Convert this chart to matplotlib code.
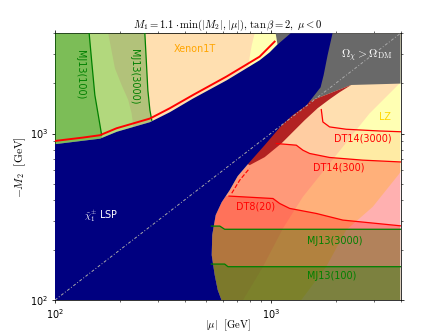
import matplotlib
matplotlib.use("Agg")
import matplotlib.pyplot as plt
from matplotlib.patches import Polygon
import numpy as np

# ---------------- data (GeV) ----------------
XLIM = (100, 4000)
YLIM = (100, 4000)

# chargino-LSP (blue) region boundaries
blue_ul_x = [100, 134.8, 161.6, 193.6, 275.5, 340.7, 435, 625.6, 889, 989.4, 1066, 1238]
blue_ul_y = [863, 905, 931, 1025, 1170, 1343, 1618, 2089, 2754, 3074, 3389, 4000]
blue_r_x = [1936, 1836, 1760, 1704, 1468, 1264, 1125, 938, 799, 703.5, 646, 593, 556, 536, 533, 550.5, 568.5, 591.5]
blue_r_y = [4000, 2951, 2239, 1895, 1479, 1288, 1122, 851, 673, 555, 457, 387, 323.6, 245.5, 186, 141, 114.8, 100]

# red contour hugging the upper-left boundary
red_tl_x = [100, 135.2, 161.6, 193.1, 275.5, 340.7, 436.8, 623.6, 889, 1043]
red_tl_y = [902.6, 946, 977, 1076, 1230, 1419, 1705, 2198, 2897, 3565]
red_lr_x = [660, 719, 799]
red_lr_y = [438, 525, 619]

# relic overabundance (grey) and dark-red band
grey_x = [1054.6, 4000, 4000, 2363, 1570, 1437, 1160, 1077.5]
grey_y = [4000, 4000, 1995, 1957, 1591, 1458, 2089, 3389]
dred_x = [758, 889, 1066, 1224, 1392, 1570, 2363, 2086, 1875, 1651, 1437, 1264, 1125, 938, 799]
dred_y = [673, 851, 1122, 1288, 1479, 1591, 1957, 1769, 1606, 1419, 1202, 1018, 875, 721, 645.6]

# direct detection
lz_x = [1387, 1811, 2240, 2976, 3954]
lz_y = [100, 158.5, 263, 363, 575]
xe_lr_x = [745, 921, 1140, 1411, 1875, 2871, 3954]
xe_lr_y = [100, 158.5, 269, 417, 661, 1318, 1995]
xe_tl_x = [176.5, 189.6, 203.6, 218.5, 226.5, 230.4, 240, 900, 780, 799, 817, 843]
xe_tl_y = [4000, 2466, 1957, 1591, 1324, 1126, 500, 500, 2300, 2869, 3389, 4000]

# disappearing tracks
dt3000_x = [1717, 1746, 1875, 2240, 3195, 4000]
dt3000_y = [1393, 1174, 1096, 1061, 1036, 1025]
dt300_x = [1063, 1315, 1411, 1516, 1875, 2673, 4000]
dt300_y = [871, 851, 794, 759, 718, 692, 675]
dt8_x = [641, 1025, 1101, 1224, 1628, 2161, 4000]
dt8_y = [421, 407, 380, 355, 331, 302, 279]

# monojet
mj3000_x = [531, 581, 612, 4000]
mj3000_y = [278, 278, 266, 266]
mj100_x = [531, 612, 634, 4000]
mj100_y = [164.4, 164.4, 158.5, 158.5]
mj3000_tl_x = [261, 265, 269.5, 275.5, 281]
mj3000_tl_y = [4000, 2754, 1820, 1380, 1202]
mj100_tl_x = [144, 148, 153, 161.6, 164.5]
mj100_tl_y = [4000, 2704, 1705, 1126, 980]

# labels
labels = [
    ("Xenon1T", 445, 3206, "orange", 0),
    ("MJ13(100)", 130.6, 2268, "green", -90),
    ("MJ13(3000)", 232, 2206, "green", -90),
    ("LZ", 3404, 1253, "gold", 0),
    ("DT14(3000)", 2673, 931, "red", 0),
    ("DT14(300)", 2075, 624, "red", 0),
    ("DT8(20)", 852, 363, "red", 0),
    ("MJ13(3000)", 1985, 226.5, "green", 0),
    ("MJ13(100)", 1928, 139.7, "green", 0),
]

# ---------------- figure ----------------
fig = plt.figure(figsize=(445 / 69.5, 334 / 69.5), dpi=69.5)
ax = fig.add_axes([55 / 445, 34 / 334, 345.5 / 445, 266.7 / 334])
ax.set_xscale("log")
ax.set_yscale("log")
ax.set_xlim(*XLIM)
ax.set_ylim(*YLIM)

def xy(xs, ys):
    return np.column_stack([xs, ys])

def poly(pts, clip=None, **kw):
    p = Polygon(pts, closed=True, linewidth=0, **kw)
    ax.add_patch(p)
    if clip is not None:
        p.set_clip_path(clip)
    return p

x0, x1 = XLIM
y0, y1 = YLIM
xin = 400  # a point well inside the blue region

# clip regions
tl_clip = Polygon(np.vstack([xy(blue_ul_x, blue_ul_y), [[x0, y1]]]), closed=True,
                  transform=ax.transData)
r_clip = Polygon(np.vstack([xy(blue_r_x, blue_r_y), [[x1, y0], [x1, y1]]]), closed=True,
                 transform=ax.transData)

# LZ (everything left of lz line)
poly(np.vstack([[[x0, y0]], xy(lz_x, lz_y), [[x1, 590], [x1, y1], [x0, y1]]]),
     facecolor="#ffffb3", zorder=1)
# Xenon1T
poly(np.vstack([[[xin, y0]], xy(xe_lr_x, xe_lr_y), [[x1, y1], [xin, y1]]]), clip=r_clip,
     facecolor="#ffdfb0", zorder=2)
poly(xy(xe_tl_x, xe_tl_y), clip=tl_clip, facecolor="#ffdfb0", zorder=2)

# DT fills
for xs, ys, a in [(dt3000_x, dt3000_y, 0.08), (dt300_x, dt300_y, 0.25), (dt8_x, dt8_y, 0.25)]:
    pts = np.vstack([[[xin, ys[0]]], xy(xs, ys), [[x1, y0], [xin, y0]]])
    poly(pts, clip=r_clip, facecolor="red", alpha=a, zorder=3)
# MJ fills
for xs, ys in [(mj3000_x, mj3000_y), (mj100_x, mj100_y)]:
    pts = np.vstack([[[xin, ys[0]]], xy(xs, ys), [[x1, y0], [xin, y0]]])
    poly(pts, clip=r_clip, facecolor="green", alpha=0.3, zorder=4)
for xs, ys in [(mj3000_tl_x, mj3000_tl_y), (mj100_tl_x, mj100_tl_y)]:
    pts = np.vstack([xy(xs, ys), [[xs[-1] * 1.05, 500], [x0, 500], [x0, y1]]])
    poly(pts, clip=tl_clip, facecolor="green", alpha=0.3, zorder=4)

# grey, dark red, blue
poly(xy(grey_x, grey_y), facecolor="dimgray", zorder=5)
poly(xy(dred_x, dred_y), facecolor="firebrick", zorder=6)
poly(np.vstack([[[x0, y0]], xy(blue_ul_x, blue_ul_y), xy(blue_r_x, blue_r_y)]),
     facecolor="navy", zorder=7)

# lines
for xs, ys in [(dt3000_x, dt3000_y), (dt300_x, dt300_y), (dt8_x, dt8_y)]:
    ax.plot(xs, ys, color="red", lw=1.3, zorder=8)
for xs, ys in [(mj3000_x, mj3000_y), (mj100_x, mj100_y), (mj3000_tl_x, mj3000_tl_y),
               (mj100_tl_x, mj100_tl_y)]:
    ax.plot(xs, ys, color="green", lw=1.3, zorder=8)
ax.plot(red_tl_x, red_tl_y, color="red", lw=2.0, zorder=8)
ax.plot(red_lr_x, red_lr_y, color="red", lw=1.2, ls="--", zorder=8)
ax.plot(XLIM, YLIM, color="#aaaaaa", lw=1.0, ls=(0, (3, 2, 1, 2)), zorder=9)

# texts
for t, x, y, c, r in labels:
    ax.text(x, y, t, color=c, fontsize=10, rotation=r, ha="center", va="center", zorder=10)
ax.text(2812, 2951, r"$\Omega_\chi>\Omega_{\rm DM}$", color="white", fontsize=12,
        ha="center", va="center", zorder=10, math_fontfamily="cm")
ax.text(163.3, 319, r"$\tilde{\chi}_1^{\pm}$ LSP", color="white", fontsize=10,
        ha="center", va="center", zorder=10, math_fontfamily="cm")

ax.set_title(r"$M_1=1.1\cdot\min(|M_2|,|\mu|),\,\tan\beta=2,\;\mu<0$", fontsize=11,
             math_fontfamily="cm", pad=4)
ax.set_xlabel(r"$|\mu|\ \ [\mathrm{GeV}]$", fontsize=11, math_fontfamily="cm", labelpad=-3)
ax.set_ylabel(r"$-M_2\ \ [\mathrm{GeV}]$", fontsize=12, math_fontfamily="cm", labelpad=2)
ax.tick_params(which="both", top=True, right=True)

fig.savefig("out.png", dpi=69.5)
